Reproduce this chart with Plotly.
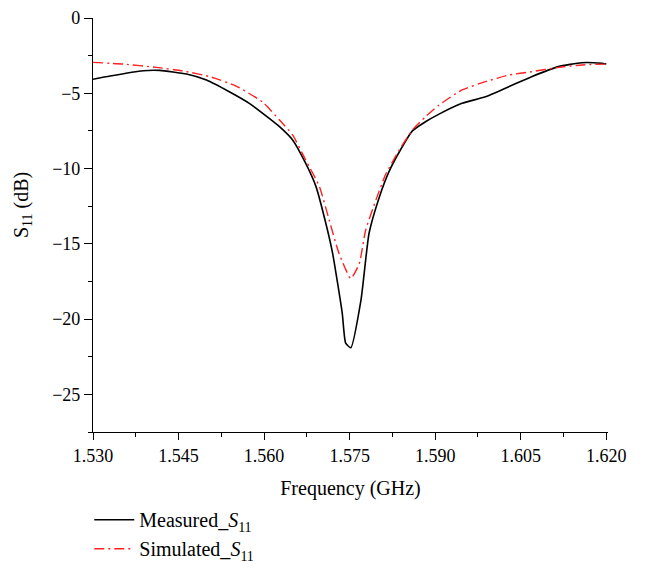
import plotly.graph_objects as go

meas_f = [1.5300, 1.5330, 1.5388, 1.5417, 1.5464, 1.5499, 1.5539, 1.5574, 1.5609,
          1.5627, 1.5650, 1.5673, 1.5691, 1.5708, 1.5720, 1.5737, 1.5743, 1.5752,
          1.5770, 1.5784, 1.5802, 1.5819, 1.5837, 1.5860, 1.5883, 1.5906, 1.5947,
          1.5988, 1.6029, 1.6069, 1.6116, 1.6157, 1.6192, 1.6200]
meas_s11 = [-4.07, -3.85, -3.50, -3.48, -3.72, -4.12, -4.90, -5.67, -6.67,
            -7.22, -8.10, -9.66, -11.2, -13.6, -15.6, -19.6, -21.6, -21.9,
            -18.7, -14.3, -11.9, -10.2, -8.9, -7.5, -6.89, -6.40, -5.67,
            -5.23, -4.56, -3.90, -3.23, -2.97, -3.01, -3.05]

sim_f = [1.5300, 1.5353, 1.5411, 1.5458, 1.5505, 1.5551, 1.5598, 1.5627, 1.5650,
         1.5673, 1.5697, 1.5714, 1.5731, 1.5752, 1.5767, 1.5778, 1.5796, 1.5813,
         1.5837, 1.5860, 1.5883, 1.5906, 1.5947, 1.5988, 1.6029, 1.6069, 1.6116,
         1.6157, 1.6200]
sim_s11 = [-2.95, -3.06, -3.28, -3.52, -3.90, -4.52, -5.60, -6.78, -7.77,
           -9.43, -11.2, -13.4, -15.6, -17.3, -16.3, -14.1, -12.1, -10.4,
           -8.77, -7.44, -6.56, -5.80, -4.78, -4.23, -3.79, -3.57, -3.28,
           -3.12, -3.06]

x_ticks = [1.530, 1.545, 1.560, 1.575, 1.590, 1.605, 1.620]
x_tick_labels = ["1.530", "1.545", "1.560", "1.575", "1.590", "1.605", "1.620"]
y_ticks = [0, -5, -10, -15, -20, -25]

font = "Liberation Serif"

fig = go.Figure()
fig.add_trace(go.Scatter(x=meas_f, y=meas_s11, mode="lines",
                         line=dict(color="black", width=1.6, shape="spline", smoothing=0.5),
                         name="Measured_<i>S</i><sub>11</sub>"))
fig.add_trace(go.Scatter(x=sim_f, y=sim_s11, mode="lines",
                         line=dict(color="#ff2020", width=1.4, dash="10px,4px,2px,4px",
                                   shape="spline", smoothing=0.5),
                         name="Simulated_<i>S</i><sub>11</sub>"))

fig.update_layout(
    width=645, height=569,
    margin=dict(l=85, r=45, t=10, b=145, autoexpand=False),
    paper_bgcolor="white", plot_bgcolor="white",
    font=dict(family=font, size=18, color="black"),
    showlegend=True,
    legend=dict(x=0.126, y=0.135, xref="container", yref="container",
                xanchor="left", yanchor="top",
                font=dict(family=font, size=20), tracegroupgap=0,
                itemwidth=40, bgcolor="rgba(0,0,0,0)"),
    annotations=[dict(text="S<sub>11</sub> (dB)", xref="paper", yref="paper",
                      x=-0.138, y=0.548, xanchor="center", yanchor="middle",
                      textangle=-90, showarrow=False,
                      font=dict(family=font, size=20))],
)
fig.update_xaxes(
    range=[1.530, 1.6203], tickvals=x_ticks, ticktext=x_tick_labels,
    showline=True, linecolor="black", linewidth=1.2, showgrid=False, zeroline=False,
    ticks="outside", ticklen=7, tickwidth=1.2, tickcolor="black",
    minor=dict(dtick=0.0075, tick0=1.530, ticks="outside", ticklen=4, tickwidth=1.2, tickcolor="black"),
    title=dict(text="Frequency (GHz)", font=dict(family=font, size=20), standoff=16),
    tickfont=dict(family=font, size=18),
)
fig.update_yaxes(
    range=[-27.5, 0], tickvals=y_ticks,
    showline=True, linecolor="black", linewidth=1.2, showgrid=False, zeroline=False,
    ticks="outside", ticklen=8, tickwidth=1.2, tickcolor="black",
    minor=dict(dtick=2.5, tick0=0, ticks="outside", ticklen=4, tickwidth=1.2, tickcolor="black"),
    tickfont=dict(family=font, size=18),
)

fig.write_html("out.html")
